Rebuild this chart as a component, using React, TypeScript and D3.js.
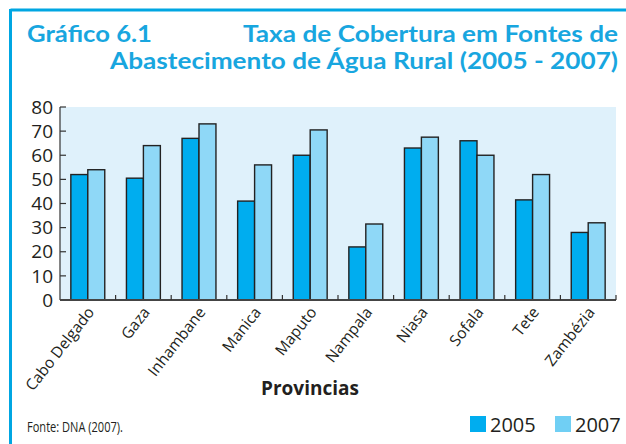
import React from "react";
import * as d3 from "d3";

const categories = ["Cabo Delgado", "Gaza", "Inhambane", "Manica", "Maputo", "Nampala", "Niasa", "Sofala", "Tete", "Zambézia"];
const series2005 = [52, 50.5, 67, 41, 60, 22, 63, 66, 41.5, 28];
const series2007 = [54, 64, 73, 56, 70.5, 31.5, 67.5, 60, 52, 32];
const seriesNames = ["2005", "2007"];
const yTicks = [0, 10, 20, 30, 40, 50, 60, 70, 80];

const W = 626, H = 444;
const plot = { left: 60, right: 616, top: 107, bottom: 300 };
const colors = ["#00adef", "#8fd8f7"];
const legendColors = ["#00adef", "#70cff4"];
const blue = "#00a6e2";
const titleColor = "#18a6df";
const font = "'Open Sans', 'Noto Sans', sans-serif";
const titleFont = "Lato, 'Open Sans', sans-serif";

export default function App() {
  const x0 = d3.scaleBand<string>().domain(categories).range([plot.left, plot.right]).paddingInner(0).paddingOuter(0);
  const bw = x0.bandwidth();
  const x1 = d3.scaleBand<string>().domain(seriesNames).range([bw * 0.195, bw * 0.805]).padding(0);
  const y = d3.scaleLinear().domain([0, 80]).range([plot.bottom, plot.top]);
  const data = [series2005, series2007];

  return (
    <svg width={W} height={H} style={{ position: "absolute", left: 0, top: 0, background: "#fff" }}>
      {/* frame */}
      <line x1={10.5} y1={10} x2={W} y2={10} stroke={blue} strokeWidth={3} />
      <line x1={10.5} y1={9} x2={10.5} y2={H} stroke={blue} strokeWidth={3} />
      {/* title */}
      <g fill={titleColor} fontFamily={titleFont} fontWeight="bold" fontSize={22}>
        <text x={27} y={42} textLength={125} lengthAdjust="spacingAndGlyphs">Gráfico 6.1</text>
        <text x={618} y={42} textAnchor="end" textLength={375} lengthAdjust="spacingAndGlyphs">Taxa de Cobertura em Fontes de</text>
        <text x={618} y={68.5} textAnchor="end" textLength={508} lengthAdjust="spacingAndGlyphs">Abastecimento de Água Rural (2005 - 2007)</text>
      </g>
      {/* plot background */}
      <rect x={plot.left} y={plot.top} width={plot.right - plot.left} height={plot.bottom - plot.top} fill="#dff1fb" />
      {/* bars */}
      {categories.map((c, i) => (
        <g key={c} transform={`translate(${x0(c)},0)`}>
          {seriesNames.map((s, k) => (
            <rect key={s} x={x1(s)} y={y(data[k][i])} width={x1.bandwidth()} height={y(0) - y(data[k][i])}
              fill={colors[k]} stroke="#222" strokeWidth={1.4} />
          ))}
        </g>
      ))}
      {/* y axis */}
      <line x1={plot.left} y1={plot.top} x2={plot.left} y2={plot.bottom} stroke="#333" strokeWidth={1.2} />
      {yTicks.map((t) => (
        <g key={t}>
          <line x1={plot.left} x2={plot.left + 6} y1={y(t)} y2={y(t)} stroke="#333" strokeWidth={1.2} />
          <text x={53} y={y(t)} dy="0.35em" textAnchor="end" fontFamily={font} fontSize={19} fill="#231f20">{t}</text>
        </g>
      ))}
      {/* x axis */}
      <line x1={plot.left} y1={plot.bottom} x2={plot.right} y2={plot.bottom} stroke="#444" strokeWidth={2} />
      {categories.map((c) => (
        <line key={c} x1={x0(c)! + bw} x2={x0(c)! + bw} y1={plot.bottom} y2={plot.bottom - 5} stroke="#333" strokeWidth={1.2} />
      ))}
      {categories.map((c) => {
        const cx = x0(c)! + bw / 2 + 3;
        const cy = plot.bottom + 9;
        return (
          <text key={c} x={cx} y={cy} transform={`rotate(-52,${cx},${cy})`} textAnchor="end" dy="0.35em"
            fontFamily={font} fontSize={15.5} fill="#231f20">{c}</text>
        );
      })}
      <text x={310} y={395} textAnchor="middle" fontFamily={font} fontWeight="bold" fontSize={19} fill="#231f20">Provincias</text>
      {/* footer */}
      <text x={27} y={432} fontFamily={font} fontSize={15} fill="#231f20" textLength={96} lengthAdjust="spacingAndGlyphs">Fonte: DNA (2007).</text>
      {seriesNames.map((s, k) => (
        <g key={s} transform={`translate(${470 + k * 85},416)`}>
          <rect x={0} y={0} width={16} height={16} fill={legendColors[k]} />
          <text x={20} y={15.5} fontFamily={font} fontSize={20} fill="#231f20">{s}</text>
        </g>
      ))}
    </svg>
  );
}
